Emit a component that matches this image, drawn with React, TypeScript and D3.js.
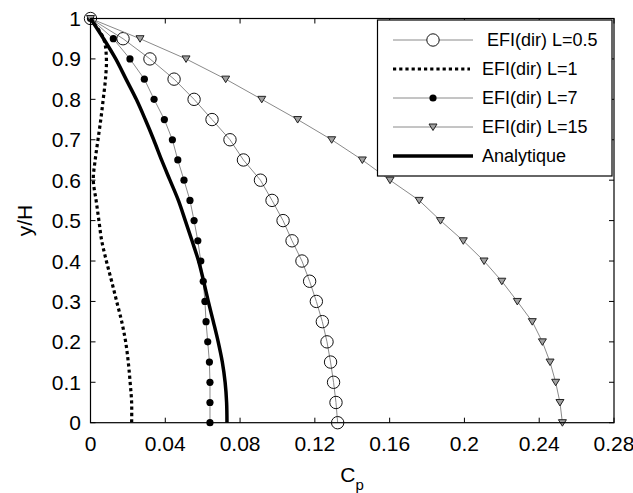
import React from "react";
import * as d3 from "d3";

// Height levels (y/H) at which each profile is sampled
const yH = [1, 0.95, 0.9, 0.85, 0.8, 0.75, 0.7, 0.65, 0.6, 0.55, 0.5, 0.45, 0.4, 0.35, 0.3, 0.25, 0.2, 0.15, 0.1, 0.05, 0];

// Pressure coefficient profiles
const cpL05 = [0, 0.0174, 0.0318, 0.0447, 0.0554, 0.065, 0.0746, 0.0818, 0.0909, 0.0971, 0.103, 0.1078, 0.1131, 0.1172, 0.1208, 0.124, 0.1265, 0.1284, 0.13, 0.1313, 0.1322];
const cpL1 = [0, 0.007, 0.0085, 0.008, 0.0068, 0.0055, 0.004, 0.0025, 0.0015, 0.003, 0.0045, 0.006, 0.0085, 0.0113, 0.014, 0.0167, 0.0188, 0.0202, 0.0212, 0.022, 0.022];
const cpL7 = [0, 0.0122, 0.0211, 0.0288, 0.034, 0.0395, 0.0438, 0.0467, 0.05, 0.0532, 0.0554, 0.0574, 0.059, 0.0603, 0.0612, 0.0618, 0.0627, 0.0636, 0.0639, 0.0639, 0.0639];
const cpL15 = [0, 0.0265, 0.0511, 0.0723, 0.0916, 0.1108, 0.129, 0.1454, 0.1602, 0.1758, 0.1872, 0.1994, 0.2105, 0.22, 0.2283, 0.2363, 0.2417, 0.2458, 0.2488, 0.2511, 0.2524];
const cpAnalytic = [0, 0.007, 0.0135, 0.019, 0.0245, 0.0293, 0.0338, 0.038, 0.0425, 0.047, 0.0507, 0.0543, 0.0578, 0.0605, 0.063, 0.0657, 0.0683, 0.0705, 0.072, 0.0728, 0.073];

const xTicks = [0, 0.04, 0.08, 0.12, 0.16, 0.2, 0.24, 0.28];
const xTickLabels = ["0", "0.04", "0.08", "0.12", "0.16", "0.2", "0.24", "0.28"];
const yTicks = [0, 0.1, 0.2, 0.3, 0.4, 0.5, 0.6, 0.7, 0.8, 0.9, 1];
const yTickLabels = ["0", "0.1", "0.2", "0.3", "0.4", "0.5", "0.6", "0.7", "0.8", "0.9", "1"];

const legendLabels = ["EFI(dir) L=0.5", "EFI(dir) L=1", "EFI(dir) L=7", "EFI(dir) L=15", "Analytique"];

const W = 633;
const H = 493;
const FONT = "'Liberation Sans', Arial, Helvetica, sans-serif";

export default function App() {
  const x = d3.scaleLinear().domain([0, 0.28]).range([90.5, 614]);
  const y = d3.scaleLinear().domain([0, 1]).range([422.7, 18.5]);

  const pts = (xs: number[]) => xs.map((v, i) => [x(v), y(yH[i])] as [number, number]);
  const straight = d3.line();
  const smooth = d3.line().curve(d3.curveCatmullRom.alpha(0.5));

  const tri = (cx: number, cy: number) =>
    `M${cx - 4},${cy - 3}L${cx + 4},${cy - 3}L${cx},${cy + 3.5}Z`;

  const [x0, x1] = x.range();
  const [yb, yt] = y.range();
  const tickLen = 5;

  // legend geometry
  const lg = { left: 377.5, top: 20, right: 612, bottom: 176 };
  const rowY = [40, 69, 98, 127, 156];
  const lineA = 393;
  const lineB = 473;
  const mid = 433;

  return (
    <svg width={W} height={H} style={{ position: "absolute", left: 0, top: 0, background: "#fff" }} fontFamily={FONT}>
      <rect x={0} y={0} width={W} height={H} fill="#fff" />

      {/* L = 0.5 */}
      <path d={straight(pts(cpL05)) || ""} fill="none" stroke="#8a8a8a" strokeWidth={1} />
      {pts(cpL05).map(([px, py], i) => (
        <circle key={"c" + i} cx={px} cy={py} r={6.2} fill="none" stroke="#111" strokeWidth={1} />
      ))}

      {/* L = 1 */}
      <path d={smooth(pts(cpL1)) || ""} fill="none" stroke="#000" strokeWidth={3.2} strokeDasharray="3.2,3" />

      {/* L = 7 */}
      <path d={straight(pts(cpL7)) || ""} fill="none" stroke="#8a8a8a" strokeWidth={1} />
      {pts(cpL7).map(([px, py], i) => (
        <circle key={"d" + i} cx={px} cy={py} r={3.6} fill="#000" />
      ))}

      {/* L = 15 */}
      <path d={straight(pts(cpL15)) || ""} fill="none" stroke="#8a8a8a" strokeWidth={1} />
      {pts(cpL15).map(([px, py], i) => (
        <path key={"t" + i} d={tri(px, py)} fill="#a0a0a0" stroke="#222" strokeWidth={1} />
      ))}

      {/* analytical solution */}
      <path d={smooth(pts(cpAnalytic)) || ""} fill="none" stroke="#000" strokeWidth={3.5} />

      {/* axes box */}
      <rect x={x0} y={yt} width={x1 - x0} height={yb - yt} fill="none" stroke="#000" strokeWidth={1.2} />
      {xTicks.map((t, i) => (
        <g key={"xt" + i}>
          <line x1={x(t)} x2={x(t)} y1={yb} y2={yb - tickLen} stroke="#000" />
          <line x1={x(t)} x2={x(t)} y1={yt} y2={yt + tickLen} stroke="#000" />
          <text x={x(t)} y={451} textAnchor="middle" fontSize={21} fill="#000">
            {xTickLabels[i]}
          </text>
        </g>
      ))}
      {yTicks.map((t, i) => (
        <g key={"yt" + i}>
          <line x1={x0} x2={x0 + tickLen} y1={y(t)} y2={y(t)} stroke="#000" />
          <line x1={x1} x2={x1 - tickLen} y1={y(t)} y2={y(t)} stroke="#000" />
          <text x={81} y={y(t)} dy="0.36em" textAnchor="end" fontSize={21} fill="#000">
            {yTickLabels[i]}
          </text>
        </g>
      ))}

      {/* axis titles */}
      <text x={352} y={482} textAnchor="middle" fontSize={21} fill="#000">
        C<tspan dy={8} fontSize={15}>p</tspan>
      </text>
      <text transform={`translate(32,${(yb + yt) / 2}) rotate(-90)`} textAnchor="middle" fontSize={21} fill="#000">
        y/H
      </text>

      {/* legend */}
      <rect x={lg.left} y={lg.top} width={lg.right - lg.left} height={lg.bottom - lg.top} fill="#fff" stroke="#000" strokeWidth={1.2} />
      <line x1={lineA} x2={lineB} y1={rowY[0]} y2={rowY[0]} stroke="#8a8a8a" />
      <circle cx={mid} cy={rowY[0]} r={6.2} fill="#fff" stroke="#111" />
      <line x1={lineA} x2={470} y1={rowY[1]} y2={rowY[1]} stroke="#000" strokeWidth={3.2} strokeDasharray="3.2,3" />
      <line x1={lineA} x2={lineB} y1={rowY[2]} y2={rowY[2]} stroke="#8a8a8a" />
      <circle cx={mid} cy={rowY[2]} r={3.6} fill="#000" />
      <line x1={lineA} x2={lineB} y1={rowY[3]} y2={rowY[3]} stroke="#8a8a8a" />
      <path d={tri(mid, rowY[3])} fill="#a0a0a0" stroke="#222" />
      <line x1={lineA} x2={lineB} y1={rowY[4]} y2={rowY[4]} stroke="#000" strokeWidth={3.5} />
      {legendLabels.map((s, i) => (
        <text key={"lg" + i} x={i === 0 ? 487 : 482} y={rowY[i]} dy="0.36em" fontSize={18} fill="#000">
          {s}
        </text>
      ))}
    </svg>
  );
}
